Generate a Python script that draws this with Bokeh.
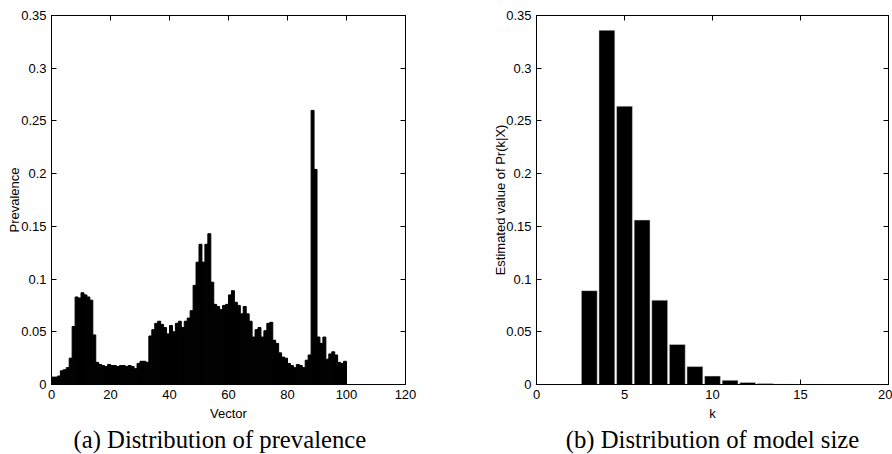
from bokeh.plotting import figure
from bokeh.layouts import row
from bokeh.models import FixedTicker, LinearAxis, CustomJSTickFormatter, Range1d, Title
from bokeh.embed import file_html
from bokeh.resources import INLINE

# ---------------- data ----------------
vectors = list(range(1, 101))
prevalence = [
    0.007, 0.007, 0.008, 0.013, 0.014, 0.016, 0.025, 0.055, 0.083, 0.082,
    0.087, 0.085, 0.083, 0.080, 0.047, 0.021, 0.019, 0.018, 0.017, 0.019,
    0.018, 0.018, 0.017, 0.018, 0.018, 0.017, 0.018, 0.017, 0.015, 0.020,
    0.022, 0.022, 0.021, 0.046, 0.052, 0.058, 0.060, 0.057, 0.054, 0.048,
    0.056, 0.050, 0.058, 0.060, 0.054, 0.060, 0.063, 0.070, 0.094, 0.116,
    0.133, 0.116, 0.133, 0.143, 0.097, 0.076, 0.074, 0.071, 0.075, 0.076,
    0.085, 0.089, 0.078, 0.075, 0.067, 0.074, 0.067, 0.060, 0.045, 0.052,
    0.054, 0.045, 0.051, 0.058, 0.059, 0.042, 0.039, 0.030, 0.026, 0.025,
    0.020, 0.018, 0.016, 0.019, 0.018, 0.016, 0.023, 0.028, 0.260, 0.204,
    0.045, 0.039, 0.045, 0.024, 0.029, 0.031, 0.028, 0.021, 0.020, 0.022,
]

k_values = list(range(1, 20))
pr_k = [0.0, 0.0, 0.089, 0.336, 0.264, 0.156, 0.080, 0.038, 0.017, 0.008,
        0.004, 0.002, 0.001, 0.0005, 0.0003, 0.0002, 0.0001, 0.0001, 0.0001]

x_ticks_a = [0, 20, 40, 60, 80, 100, 120]
x_ticks_b = [0, 5, 10, 15, 20]
y_ticks = [0, 0.05, 0.1, 0.15, 0.2, 0.25, 0.3, 0.35]

SANS = "Liberation Sans"
SERIF = "Liberation Serif"

Y_FMT_CODE = "return tick.toFixed(2).replace(/0+$/, '').replace(/\\.$/, '');"
EMPTY_FMT_CODE = "return '';"


def style_axes(p, xticks, xlabel, ylabel, label_standoff):
    for ax in p.xaxis:
        ax.ticker = FixedTicker(ticks=xticks)
    for ax in p.yaxis:
        ax.ticker = FixedTicker(ticks=y_ticks)
        ax.formatter = CustomJSTickFormatter(code=Y_FMT_CODE)
    for ax in list(p.xaxis) + list(p.yaxis):
        ax.major_tick_in = 5
        ax.major_tick_out = 0
        ax.minor_tick_line_color = None
        ax.axis_line_color = "black"
        ax.major_tick_line_color = "black"
        ax.major_label_text_color = "black"
        ax.major_label_text_font = SANS
        ax.major_label_text_font_size = "13px"
        ax.major_label_standoff = 5
        ax.axis_label_text_font = SANS
        ax.axis_label_text_font_size = "13px"
        ax.axis_label_text_font_style = "normal"
        ax.axis_label_text_color = "black"
    p.xaxis.axis_label = xlabel
    p.xaxis.axis_label_standoff = 4
    p.yaxis.axis_label = ylabel
    p.yaxis.axis_label_standoff = label_standoff

    top = LinearAxis(ticker=FixedTicker(ticks=xticks),
                     formatter=CustomJSTickFormatter(code=EMPTY_FMT_CODE),
                     major_label_text_font_size="1px",
                     major_label_standoff=0, major_tick_in=5, major_tick_out=0,
                     minor_tick_line_color=None, axis_line_color="black")
    right = LinearAxis(ticker=FixedTicker(ticks=y_ticks),
                       formatter=CustomJSTickFormatter(code=EMPTY_FMT_CODE),
                       major_label_text_font_size="1px",
                       major_label_standoff=0, major_tick_in=5, major_tick_out=0,
                       minor_tick_line_color=None, axis_line_color="black")
    p.add_layout(top, "above")
    p.add_layout(right, "right")
    p.xgrid.visible = False
    p.ygrid.visible = False
    p.outline_line_color = "black"
    p.background_fill_color = "white"
    p.border_fill_color = "white"


def caption(p, text, align, offset):
    t = Title(text=text, align=align, text_font=SERIF, text_font_size="24.7px",
              text_font_style="normal", text_color="black", standoff=0, offset=offset)
    p.add_layout(t, "below")


# ---------------- (a) ----------------
pa = figure(frame_width=354, frame_height=369, min_border_left=51, min_border_right=41,
            min_border_top=15, min_border_bottom=70,
            x_range=Range1d(0, 120), y_range=Range1d(0, 0.35),
            output_backend="svg", toolbar_location=None)
pa.quad(left=[v - 1 for v in vectors], right=vectors, bottom=0, top=prevalence,
        fill_color="black", line_color="black", line_width=1)
style_axes(pa, x_ticks_a, "Vector", "Prevalence", -4)
caption(pa, "(a) Distribution of prevalence", "left", 22)

# ---------------- (b) ----------------
pb = figure(frame_width=352, frame_height=369, min_border_left=90, min_border_right=4,
            min_border_top=15, min_border_bottom=70,
            x_range=Range1d(0, 20), y_range=Range1d(0, 0.35),
            output_backend="svg", toolbar_location=None)
pb.vbar(x=k_values, width=0.9, bottom=0, top=pr_k,
        fill_color="black", line_color="#dddddd", line_width=0.5)
style_axes(pb, x_ticks_b, "k", "Estimated value of Pr(k|X)", -5)
caption(pb, "(b) Distribution of model size", "center", 0)

layout = row(pa, pb)
open("out.html", "w").write(file_html(layout, INLINE))
